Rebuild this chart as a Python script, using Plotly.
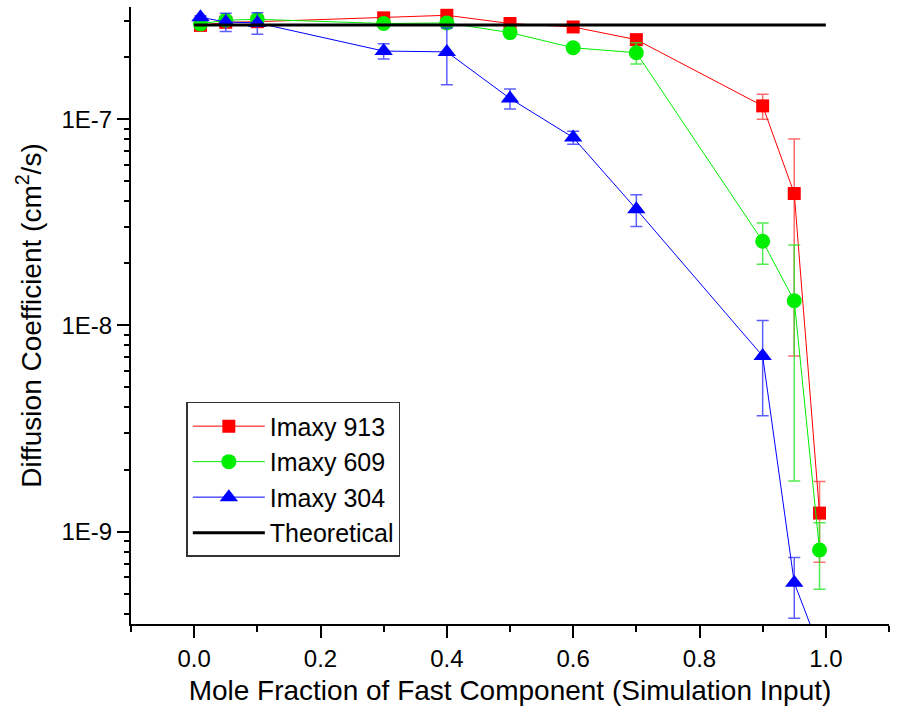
import plotly.graph_objects as go

x = [0.01, 0.05, 0.1, 0.3, 0.4, 0.5, 0.6, 0.7, 0.9, 0.95, 0.99]

imaxy913 = [2.85e-7, 2.95e-7, 2.97e-7, 3.1e-7, 3.19e-7, 2.91e-7, 2.8e-7, 2.43e-7, 1.16e-7, 4.36e-8, 1.23e-9]
imaxy913_err = [0.05e-7, 0.05e-7, 0.05e-7, 0.05e-7, 0.05e-7, 0.05e-7, 0.06e-7, 0.08e-7, 0.16e-7, 3.65e-8, 0.52e-9]

imaxy609 = [2.9e-7, 3.02e-7, 3.05e-7, 2.91e-7, 2.93e-7, 2.63e-7, 2.22e-7, 2.1e-7, 2.56e-8, 1.316e-8, 8.15e-10]
imaxy609_err = [0.05e-7, 0.05e-7, 0.05e-7, 0.05e-7, 0.1e-7, 0.06e-7, 0.08e-7, 0.25e-7, 0.58e-8, 1.14e-8, 0.29e-9]

imaxy304 = [3.12e-7, 2.96e-7, 2.93e-7, 2.14e-7, 2.12e-7, 1.26e-7, 8.15e-8, 3.66e-8, 7.1e-9, 5.65e-10, 2.7e-10]
imaxy304_err = [0.05e-7, 0.3e-7, 0.35e-7, 0.18e-7, 0.65e-7, 0.14e-7, 0.06e-7, 0.64e-8, 3.45e-9, 1.85e-10, 0.0]

theory_x = [0.0, 1.0]
theory_y = [2.86e-7, 2.86e-7]

y_tickvals = [1e-9, 1e-8, 1e-7]
y_ticktext = ["1E-9", "1E-8", "1E-7"]
y_minor_vals = [m * 10.0 ** e for e in (-10, -9, -8, -7) for m in range(2, 10)]

x_tickvals = [0, 0.2, 0.4, 0.6, 0.8, 1.0]
x_ticktext = ["0.0", "0.2", "0.4", "0.6", "0.8", "1.0"]

FONT = "Liberation Sans, Arial, sans-serif"
YRANGE = [-9.448, -6.456]

fig = go.Figure()

series = [
    ("Imaxy 913", imaxy913, imaxy913_err, "#ff0000", "rgba(255,60,60,0.75)", "square", 13),
    ("Imaxy 609", imaxy609, imaxy609_err, "#00ee00", "rgba(40,230,40,0.8)", "circle", 15),
    ("Imaxy 304", imaxy304, imaxy304_err, "#0000ff", "rgba(40,40,255,0.75)", "triangle-up", 16),
]
for name, ys, es, col, ecol, sym, sz in series:
    fig.add_trace(go.Scatter(
        x=x, y=ys, name=name, mode="lines+markers",
        line=dict(color=col, width=1),
        marker=dict(symbol=sym, size=sz, color=col, line=dict(width=0)),
        error_y=dict(type="data", array=es, visible=True, color=ecol, thickness=1.5, width=6),
    ))

fig.add_trace(go.Scatter(
    x=theory_x, y=theory_y, name="Theoretical", mode="lines",
    line=dict(color="black", width=3),
))

# invisible helper trace so the minor-tick overlay axis is drawn
fig.add_trace(go.Scatter(
    x=theory_x, y=theory_y, yaxis="y2", mode="lines",
    line=dict(color="rgba(0,0,0,0)", width=0), showlegend=False, hoverinfo="skip",
))

fig.update_layout(
    width=898, height=714,
    margin=dict(l=131, r=9, t=7, b=90),
    paper_bgcolor="white", plot_bgcolor="white",
    font=dict(family=FONT, color="black", size=24),
    showlegend=True,
    legend=dict(
        x=0.073, y=0.36, xanchor="left", yanchor="top",
        bgcolor="white", bordercolor="#333333", borderwidth=1.5,
        font=dict(family=FONT, size=25, color="black"),
        tracegroupgap=0, itemwidth=72,
    ),
    yaxis2=dict(
        overlaying="y", side="left", type="log", range=YRANGE,
        tickvals=y_minor_vals, ticks="outside", ticklen=6, tickwidth=2, tickcolor="black",
        showticklabels=False, showline=False, showgrid=False, zeroline=False,
    ),
)

fig.update_xaxes(
    range=[-0.1, 1.1], tickvals=x_tickvals, ticktext=x_ticktext,
    showline=True, linecolor="black", linewidth=2, mirror=False,
    ticks="outside", ticklen=12, tickwidth=2, tickcolor="black",
    minor=dict(dtick=0.1, tick0=0, ticks="outside", ticklen=6, tickwidth=2, tickcolor="black", showgrid=False),
    showgrid=False, zeroline=False,
    tickfont=dict(family=FONT, size=24),
    title=dict(text="Mole Fraction of Fast Component (Simulation Input)", font=dict(family=FONT, size=28), standoff=10),
)

fig.update_yaxes(
    selector=dict(type="log"),
)
fig.layout.yaxis.update(
    type="log", range=YRANGE,
    tickvals=y_tickvals, ticktext=y_ticktext,
    showline=True, linecolor="black", linewidth=2, mirror=False,
    ticks="outside", ticklen=12, tickwidth=2, tickcolor="black",
    showgrid=False, zeroline=False,
    tickfont=dict(family=FONT, size=24),
    title=dict(text="Diffusion Coefficient (cm<sup>2</sup>/s)", font=dict(family=FONT, size=28), standoff=12),
)

fig.write_html("out.html")
